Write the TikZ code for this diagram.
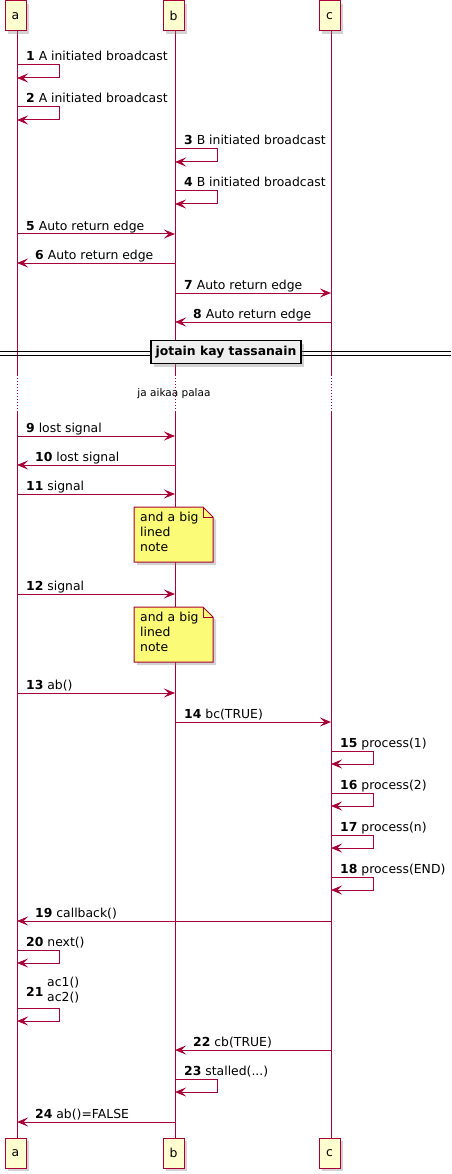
\documentclass[tikz,border=0pt]{standalone}
\usepackage{fontspec}
\setmainfont{DejaVu Sans}
\usetikzlibrary{arrows.meta,shadows}
\definecolor{umlred}{HTML}{A80036}
\definecolor{partfill}{HTML}{FEFECE}
\definecolor{notefill}{HTML}{FBFB77}
\definecolor{divfill}{HTML}{EEEEEE}
\begin{document}
\begin{tikzpicture}[x=1pt,y=-1pt,
    font=\fontsize{12.4}{14}\selectfont,
    shade/.style={drop shadow={shadow xshift=3pt,shadow yshift=-3pt,opacity=.35}},
    part/.style={draw=umlred,fill=partfill,line width=1pt,minimum width=21pt,minimum height=30pt,inner sep=0pt,shade},
    life/.style={umlred,line width=1pt},
    msg/.style={umlred,line width=1pt,-{Stealth[length=11pt,width=9pt,inset=4.5pt]}},
    lbl/.style={anchor=base west,inner sep=0pt},
    notebody/.style={draw=umlred,fill=notefill,line width=1pt,shade},
    notetext/.style={anchor=north west,inner xsep=6pt,inner ysep=5pt,text width=67pt,align=left,font=\fontsize{12.4}{15}\selectfont},
    divbox/.style={draw=black,fill=divfill,line width=1.5pt,minimum width=150pt,minimum height=23pt,inner sep=0pt,font=\fontsize{12.4}{14}\selectfont\bfseries,shade}]
    \useasboundingbox (0,0) rectangle (451,1174);
    % participants
    \coordinate (a) at (17,0);
    \coordinate (b) at (175,0);
    \coordinate (c) at (331,0);
    \draw[life] (a |- 0,31) -- (a |- 0,375);
    \draw[life] (b |- 0,31) -- (b |- 0,375);
    \draw[life] (c |- 0,31) -- (c |- 0,375);
    \draw[life,dotted] (a |- 0,375) -- (a |- 0,412);
    \draw[life,dotted] (b |- 0,375) -- (b |- 0,412);
    \draw[life,dotted] (c |- 0,375) -- (c |- 0,412);
    \draw[life] (a |- 0,412) -- (a |- 0,1138);
    \draw[life] (b |- 0,412) -- (b |- 0,1138);
    \draw[life] (c |- 0,412) -- (c |- 0,1138);
    \node[part] (atop) at (15.5,16) {a};
    \node[part] (btop) at (173.5,16) {b};
    \node[part] (ctop) at (329.5,16) {c};
    \node[part] (abot) at (15.5,1153) {a};
    \node[part] (bbot) at (173.5,1153) {b};
    \node[part] (cbot) at (329.5,1153) {c};
    % messages
    \draw[msg] (a |- 0,65) -- ++(42,0) -- ++(0,13) -- ++(-42,0);
    \node[lbl] (m1) at (26,61) {\textbf{1} A initiated broadcast};
    \draw[msg] (a |- 0,107) -- ++(42,0) -- ++(0,13) -- ++(-42,0);
    \node[lbl] (m2) at (26,103) {\textbf{2} A initiated broadcast};
    \draw[msg] (b |- 0,149) -- ++(42,0) -- ++(0,13) -- ++(-42,0);
    \node[lbl] (m3) at (184,145) {\textbf{3} B initiated broadcast};
    \draw[msg] (b |- 0,191) -- ++(42,0) -- ++(0,13) -- ++(-42,0);
    \node[lbl] (m4) at (184,187) {\textbf{4} B initiated broadcast};
    \draw[msg] (a |- 0,234) -- (b |- 0,234);
    \node[lbl] (m5) at (26,230) {\textbf{5} Auto return edge};
    \draw[msg] (b |- 0,263) -- (a |- 0,263);
    \node[lbl] (m6) at (35,259) {\textbf{6} Auto return edge};
    \draw[msg] (b |- 0,293) -- (c |- 0,293);
    \node[lbl] (m7) at (184,289) {\textbf{7} Auto return edge};
    \draw[msg] (c |- 0,322) -- (b |- 0,322);
    \node[lbl] (m8) at (193,318) {\textbf{8} Auto return edge};
    % divider
    \draw[line width=1pt,shade] (0,351) -- (451,351);
    \draw[line width=1pt] (0,355) -- (451,355);
    \node[divbox] (div) at (226,352) {jotain kay tassanain};
    \node[font=\fontsize{10.5}{12}\selectfont] (delay) at (174,394) {ja aikaa palaa};
    \draw[msg] (a |- 0,436) -- (b |- 0,436);
    \node[lbl] (m9) at (26,432) {\textbf{9} lost signal};
    \draw[msg] (b |- 0,465) -- (a |- 0,465);
    \node[lbl] (m10) at (35,461) {\textbf{10} lost signal};
    \draw[msg] (a |- 0,494) -- (b |- 0,494);
    \node[lbl] (m11) at (26,490) {\textbf{11} signal};
    % notes
    \coordinate (n1) at (134,507);
    \filldraw[notebody] (n1) -- ++(69,0) -- ++(10,10) -- ++(0,45) -- ++(-79,0) -- cycle;
    \draw[umlred,line width=1pt] (n1) ++(69,0) -- ++(0,10) -- ++(10,0);
    \node[notetext] (t1) at (n1) {and a big\\lined\\note};
    \draw[msg] (a |- 0,594) -- (b |- 0,594);
    \node[lbl] (m12) at (26,590) {\textbf{12} signal};
    \coordinate (n2) at (134,607);
    \filldraw[notebody] (n2) -- ++(69,0) -- ++(10,10) -- ++(0,45) -- ++(-79,0) -- cycle;
    \draw[umlred,line width=1pt] (n2) ++(69,0) -- ++(0,10) -- ++(10,0);
    \node[notetext] (t2) at (n2) {and a big\\lined\\note};
    \draw[msg] (a |- 0,693) -- (b |- 0,693);
    \node[lbl] (m13) at (26,689) {\textbf{13} ab()};
    \draw[msg] (b |- 0,722) -- (c |- 0,722);
    \node[lbl] (m14) at (184,718) {\textbf{14} bc(TRUE)};
    \draw[msg] (c |- 0,751) -- ++(42,0) -- ++(0,13) -- ++(-42,0);
    \node[lbl] (m15) at (340,747) {\textbf{15} process(1)};
    \draw[msg] (c |- 0,793) -- ++(42,0) -- ++(0,13) -- ++(-42,0);
    \node[lbl] (m16) at (340,789) {\textbf{16} process(2)};
    \draw[msg] (c |- 0,835) -- ++(42,0) -- ++(0,13) -- ++(-42,0);
    \node[lbl] (m17) at (340,831) {\textbf{17} process(n)};
    \draw[msg] (c |- 0,877) -- ++(42,0) -- ++(0,13) -- ++(-42,0);
    \node[lbl] (m18) at (340,873) {\textbf{18} process(END)};
    \draw[msg] (c |- 0,921) -- (a |- 0,921);
    \node[lbl] (m19) at (35,917) {\textbf{19} callback()};
    \draw[msg] (a |- 0,950) -- ++(42,0) -- ++(0,13) -- ++(-42,0);
    \node[lbl] (m20) at (26,946) {\textbf{20} next()};
    \draw[msg] (a |- 0,1008) -- ++(42,0) -- ++(0,13) -- ++(-42,0);
    \node[lbl] (m21) at (26,996) {\textbf{21}};
    \node[anchor=north west,inner sep=0pt,align=left,font=\fontsize{12.4}{15}\selectfont] (m21t) at (47,977) {ac1()\\ac2()};
    \draw[msg] (c |- 0,1050) -- (b |- 0,1050);
    \node[lbl] (m22) at (193,1046) {\textbf{22} cb(TRUE)};
    \draw[msg] (b |- 0,1079) -- ++(42,0) -- ++(0,13) -- ++(-42,0);
    \node[lbl] (m23) at (184,1075) {\textbf{23} stalled(...)};
    \draw[msg] (b |- 0,1122) -- (a |- 0,1122);
    \node[lbl] (m24) at (35,1118) {\textbf{24} ab()=FALSE};
\end{tikzpicture}
\end{document}
